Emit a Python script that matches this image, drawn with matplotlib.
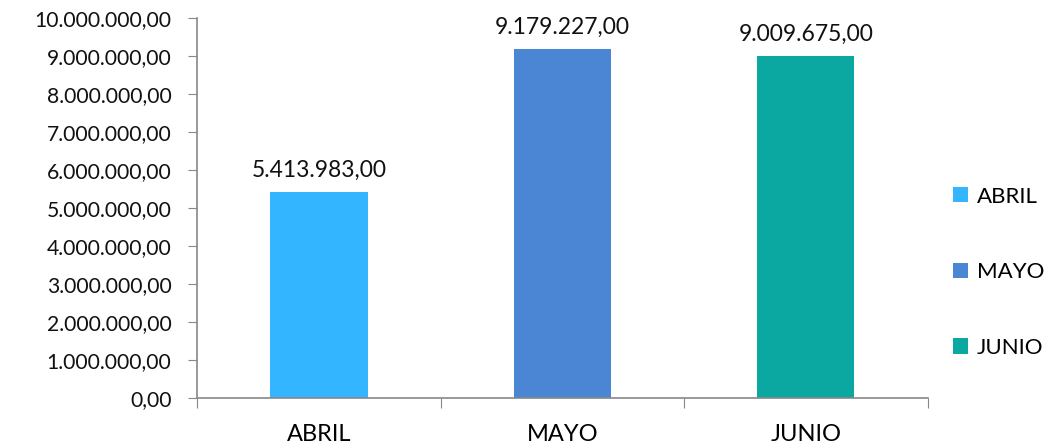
import matplotlib
matplotlib.use("Agg")
import matplotlib.pyplot as plt
from matplotlib.patches import Patch
from matplotlib.ticker import FuncFormatter, MultipleLocator

# Datos
meses = ["ABRIL", "MAYO", "JUNIO"]
valores = [5413983.00, 9179227.00, 9009675.00]
colores = ["#33B5FF", "#4A86D4", "#0BA8A2"]


def formato_es(v, pos=None):
    s = f"{v:,.2f}"
    return s.replace(",", "X").replace(".", ",").replace("X", ".")


plt.rcParams['font.family'] = ['Lato', 'DejaVu Sans']

fig = plt.figure(figsize=(10.54, 4.44), dpi=100)
ax = fig.add_axes([0.187, 0.1036, 0.693, 0.856])

x = range(len(meses))
ax.bar(x, valores, width=0.4, color=colores)

for xi, v in zip(x, valores):
    ax.annotate(formato_es(v), (xi, v), xytext=(0, 8), textcoords="offset points",
                ha="center", va="bottom", fontsize=16.5, color="#111111")

ax.set_xlim(-0.5, 2.5)
ax.set_ylim(0, 10000000)
ax.yaxis.set_major_locator(MultipleLocator(1000000))
ax.yaxis.set_major_formatter(FuncFormatter(formato_es))

ax.set_xticks([-0.5, 0.5, 1.5, 2.5], minor=False)
ax.set_xticklabels([])
ax.set_xticks(list(x), minor=True)
ax.set_xticklabels(meses, minor=True)
ax.tick_params(axis="x", which="minor", length=0, pad=19, labelsize=17)
ax.tick_params(axis="x", which="major", length=7, direction="out", color="#888888")
ax.tick_params(axis="y", length=6.5, direction="out", color="#888888",
               labelsize=15.2, pad=12, labelcolor="#111111")

for lado in ["top", "right"]:
    ax.spines[lado].set_visible(False)
for lado in ["left", "bottom"]:
    ax.spines[lado].set_color("#888888")
    ax.spines[lado].set_linewidth(1.2)

handles = [Patch(facecolor=c, label=m) for m, c in zip(meses, colores)]
fig.legend(handles=handles, loc="center left", bbox_to_anchor=(0.885, 0.387),
           frameon=False, fontsize=16, handlelength=0.68, handleheight=0.68,
           handletextpad=0.4, labelspacing=2.5)

fig.savefig("out.png", dpi=100)
